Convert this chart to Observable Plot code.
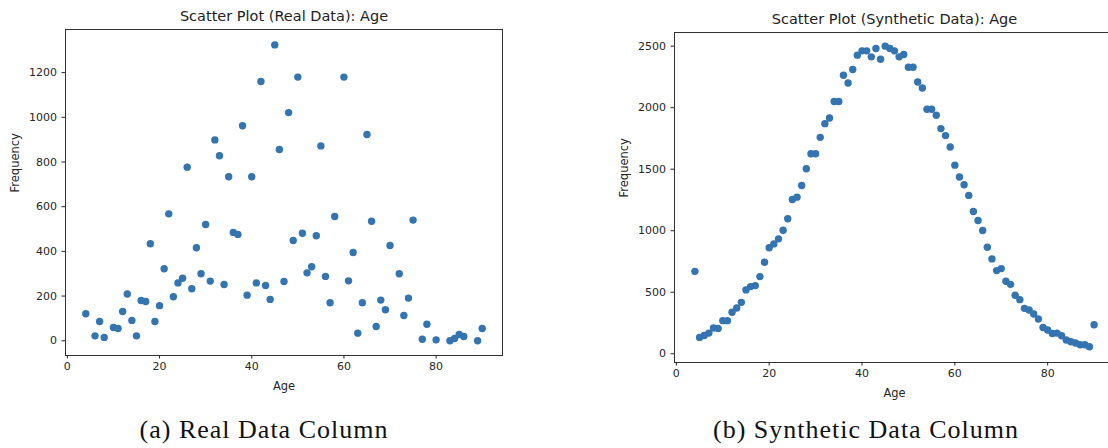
<!DOCTYPE html>
<html><head><meta charset="utf-8">
<script src="https://cdn.jsdelivr.net/npm/d3@7"></script>
<script src="https://cdn.jsdelivr.net/npm/@observablehq/plot@0.6"></script>
<style>
html,body{margin:0;padding:0;background:#fff;width:1108px;height:448px;overflow:hidden;position:relative}
.panel{position:absolute;top:0}
.panel svg{max-width:none !important;display:block}
.cap{position:absolute;font-family:"Liberation Serif",serif;font-size:26px;color:#111;white-space:nowrap;transform:translateX(-50%);letter-spacing:1px;line-height:1}
</style></head><body>
<div id="left" class="panel" style="left:0;width:522px"></div>
<div id="right" class="panel" style="left:610px;width:514px"></div>
<div class="cap" style="left:264px;top:417px">(a) Real Data Column</div>
<div class="cap" style="left:866px;top:417px">(b) Synthetic Data Column</div>
<script>
// Real data: age values and their frequencies
const realAges = [4,6,7,8,10,11,12,13,14,15,16,17,18,19,20,21,22,23,24,25,26,27,28,29,30,31,32,33,34,35,36,37,38,39,40,41,42,43,44,45,46,47,48,49,50,51,52,53,54,55,56,57,58,60,61,62,63,64,65,66,67,68,69,70,72,73,74,75,77,78,80,83,84,85,86,89,90];
const realFreq = [121,22,86,15,59,55,131,209,91,22,180,176,434,86,157,322,568,197,259,280,777,233,416,300,520,267,899,828,252,734,485,476,962,204,734,259,1160,247,185,1324,856,265,1021,449,1180,481,304,331,470,872,288,170,556,1180,268,395,34,170,923,535,64,182,139,426,300,113,191,540,7,74,4,0,10,28,19,0,55];

// Synthetic data: ages 4..90 and frequencies
const synthAges = [4,5,6,7,8,9,10,11,12,13,14,15,16,17,18,19,20,21,22,23,24,25,26,27,28,29,30,31,32,33,34,35,36,37,38,39,40,41,42,43,44,45,46,47,48,49,50,51,52,53,54,55,56,57,58,59,60,61,62,63,64,65,66,67,68,69,70,71,72,73,74,75,76,77,78,79,80,81,82,83,84,85,86,87,88,89,90];
const synthFreq = [670,133,149,168,209,206,269,269,337,372,418,519,546,554,627,744,861,893,934,1004,1097,1254,1273,1368,1504,1626,1626,1759,1870,1916,2050,2050,2264,2201,2310,2427,2462,2462,2413,2481,2394,2500,2481,2462,2413,2432,2329,2329,2209,2160,1987,1987,1938,1830,1773,1680,1533,1436,1374,1287,1156,1083,1002,866,771,676,692,589,564,475,440,369,356,323,283,214,193,165,168,147,112,98,87,73,73,57,236];

const xTicks = [0,20,40,60,80];
const realYTicks = [0,200,400,600,800,1000,1200];
const synthYTicks = [0,500,1000,1500,2000,2500];

const titles = ["Scatter Plot (Real Data): Age", "Scatter Plot (Synthetic Data): Age"];
const xLabel = "Age";
const yLabel = "Frequency";

function scatter(ages, freqs, yDomain, yTicks, title, g) {
  const data = ages.map((a, i) => ({age: a, freq: freqs[i]}));
  return Plot.plot({
    width: g.width, height: g.height,
    marginLeft: g.ml, marginRight: g.mr, marginTop: g.mt, marginBottom: g.mb,
    style: {fontFamily: "DejaVu Sans", fontSize: "11px", color: "#262626", background: "transparent", overflow: "visible"},
    x: {domain: [-0.4, 94.4]},
    y: {domain: yDomain},
    marks: [
      Plot.frame({stroke: "#333", strokeWidth: 1}),
      Plot.axisX({ticks: xTicks, tickFormat: d => String(d), tickSize: 3.5, tickPadding: 3, label: null, fontSize: 11}),
      Plot.axisY({ticks: yTicks, tickFormat: d => String(d), tickSize: 3.5, tickPadding: 5, label: null, fontSize: 11}),
      Plot.dot(data, {x: "age", y: "freq", r: 3.7, fill: "#3474b1", stroke: null}),
      Plot.text([title], {text: d => d, frameAnchor: "top", lineAnchor: "middle", dy: -13, fontSize: 14.5, fill: "#222"}),
      Plot.text([xLabel], {text: d => d, frameAnchor: "bottom", lineAnchor: "middle", dy: 31, fontSize: 11.5, fill: "#262626"}),
      Plot.text([yLabel], {text: d => d, frameAnchor: "left", lineAnchor: "middle", dx: -50, rotate: -90, fontSize: 11.5, fill: "#262626"})
    ]
  });
}

document.getElementById("left").append(
  scatter(realAges, realFreq, [-66, 1393], realYTicks, titles[0], {width: 522, height: 405, ml: 65, mr: 20, mt: 29, mb: 50})
);
document.getElementById("right").append(
  scatter(synthAges, synthFreq, [-71, 2611], synthYTicks, titles[1], {width: 514, height: 407, ml: 64, mr: 10, mt: 32, mb: 45})
);
</script>
</body></html>
